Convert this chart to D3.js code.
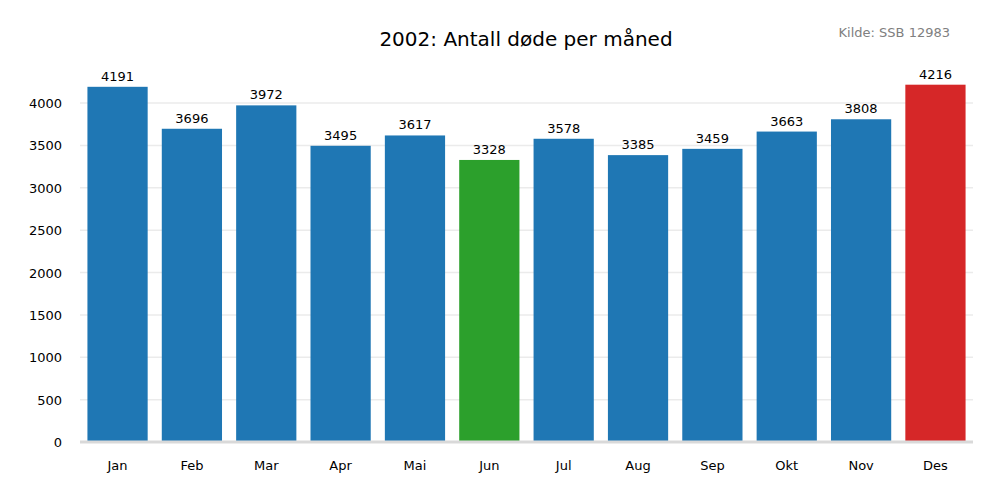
<!DOCTYPE html>
<html><head><meta charset="utf-8">
<script src="https://cdn.jsdelivr.net/npm/d3@7"></script>
<style>body{margin:0;background:#fff}text{font-family:"DejaVu Sans",sans-serif}</style>
</head><body><svg id="c" width="1000" height="500"></svg>
<script>
const months=["Jan","Feb","Mar","Apr","Mai","Jun","Jul","Aug","Sep","Okt","Nov","Des"];
const deaths=[4191,3696,3972,3495,3617,3328,3578,3385,3459,3663,3808,4216];
const yTicks=[0,500,1000,1500,2000,2500,3000,3500,4000];
const svg=d3.select("#c");
const x=d3.scaleBand().domain(months).range([80,973]).paddingInner(0.19).paddingOuter(0.1);
const y=d3.scaleLinear().domain([0,4000]).range([442,103]);
const maxV=d3.max(deaths),minV=d3.min(deaths);
svg.append("g").selectAll("line").data(yTicks.slice(1)).join("line")
 .attr("x1",80).attr("x2",973).attr("y1",d=>y(d)).attr("y2",d=>y(d)).attr("stroke","#ebebeb").attr("stroke-width",1.5);
svg.append("g").selectAll("rect").data(deaths).join("rect")
 .attr("x",(d,i)=>x(months[i])).attr("width",x.bandwidth())
 .attr("y",d=>y(d)).attr("height",d=>y(0)-y(d))
 .attr("fill",d=>d===maxV?"#d62728":d===minV?"#2ca02c":"#1f77b4");
svg.append("line").attr("x1",80).attr("x2",973).attr("y1",442).attr("y2",442).attr("stroke","#d9d9d9").attr("stroke-width",3);
svg.append("g").selectAll("text").data(deaths).join("text")
 .attr("x",(d,i)=>x(months[i])+x.bandwidth()/2).attr("y",d=>y(d)-6)
 .attr("text-anchor","middle").attr("font-size",13).text(d=>d);
svg.append("g").selectAll("text").data(yTicks).join("text")
 .attr("x",62).attr("y",d=>y(d)+5).attr("text-anchor","end").attr("font-size",13).text(d=>d);
svg.append("g").selectAll("text").data(months).join("text")
 .attr("x",d=>x(d)+x.bandwidth()/2).attr("y",470).attr("text-anchor","middle").attr("font-size",13).text(d=>d);
svg.append("text").attr("x",526).attr("y",46).attr("text-anchor","middle").attr("font-size",20).text("2002: Antall døde per måned");
svg.append("text").attr("x",950).attr("y",37).attr("text-anchor","end").attr("font-size",13).attr("fill","#808080").text("Kilde: SSB 12983");
</script></body></html>
